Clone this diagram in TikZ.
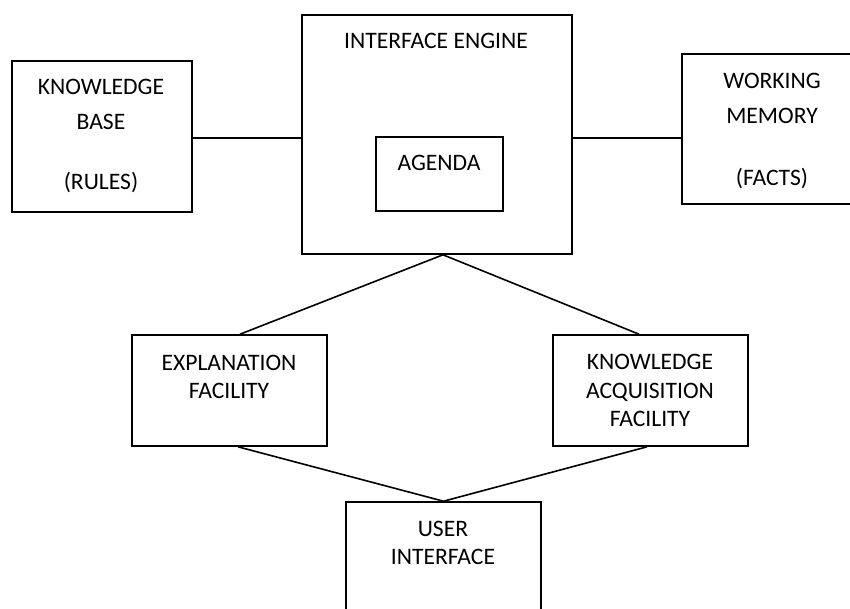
\documentclass[tikz,border=0pt]{standalone}
\usepackage{fontspec}
\setmainfont{Carlito}
\begin{document}
\begin{tikzpicture}[x=1pt,y=-1pt,
  box/.style={draw=black,line width=1.6pt,rectangle,inner sep=0pt},
  lbl/.style={font=\fontsize{23.6}{28}\selectfont,anchor=base,inner sep=0pt,text=black},
  link/.style={draw=black,line width=1.6pt}]
\useasboundingbox (0,0) rectangle (850,608);

% boxes
\node[box,minimum width=180pt,minimum height=151pt] (kb)  at (102,136.5) {};
\node[box,minimum width=270pt,minimum height=239pt] (ie)  at (437,134.5) {};
\node[box,minimum width=127pt,minimum height=74pt]  (ag)  at (439.5,174) {};
\node[box,minimum width=180pt,minimum height=150pt] (wm)  at (772,129) {};
\node[box,minimum width=195pt,minimum height=111pt] (ef)  at (229.5,390.5) {};
\node[box,minimum width=195pt,minimum height=111pt] (kaf) at (650.5,390.5) {};
\node[box,minimum width=195pt,minimum height=111pt] (ui)  at (443.5,557.5) {};

% labels
\node[lbl] (kb1) at (101,94.6)  {KNOWLEDGE};
\node[lbl] (kb2) at (101,129.6) {BASE};
\node[lbl] (kb3) at (101,189.6) {(RULES)};
\node[lbl] (ie1) at (436,48.6)  {INTERFACE ENGINE};
\node[lbl] (ag1) at (439,170.6) {AGENDA};
\node[lbl] (wm1) at (772,88.6)  {WORKING};
\node[lbl] (wm2) at (772,123.6) {MEMORY};
\node[lbl] (wm3) at (772,185.6) {(FACTS)};
\node[lbl] (ef1) at (229,370.6) {EXPLANATION};
\node[lbl] (ef2) at (229,398.6) {FACILITY};
\node[lbl] (ka1) at (650,369.6) {KNOWLEDGE};
\node[lbl] (ka2) at (650,398.6) {ACQUISITION};
\node[lbl] (ka3) at (650,426.6) {FACILITY};
\node[lbl] (ui1) at (443,536.6) {USER};
\node[lbl] (ui2) at (443,564.6) {INTERFACE};

% attachment points
\coordinate (hy) at (0,138);
\path (ie.south)  ++(6,0)    coordinate (ieb);
\path (ef.north)  ++(10.5,0) coordinate (eft);
\path (ef.south)  ++(8.5,0)  coordinate (efb);
\path (kaf.north) ++(-11.5,0) coordinate (kat);
\path (kaf.south) ++(-3.5,0) coordinate (kab);

% connectors
\draw[link] (kb.east |- hy) -- (ie.west |- hy);
\draw[link] (ie.east |- hy) -- (wm.west |- hy);
\draw[link] (eft) -- (ieb) -- (kat);
\draw[link] (efb) -- (ui.north) -- (kab);
\end{tikzpicture}
\end{document}
